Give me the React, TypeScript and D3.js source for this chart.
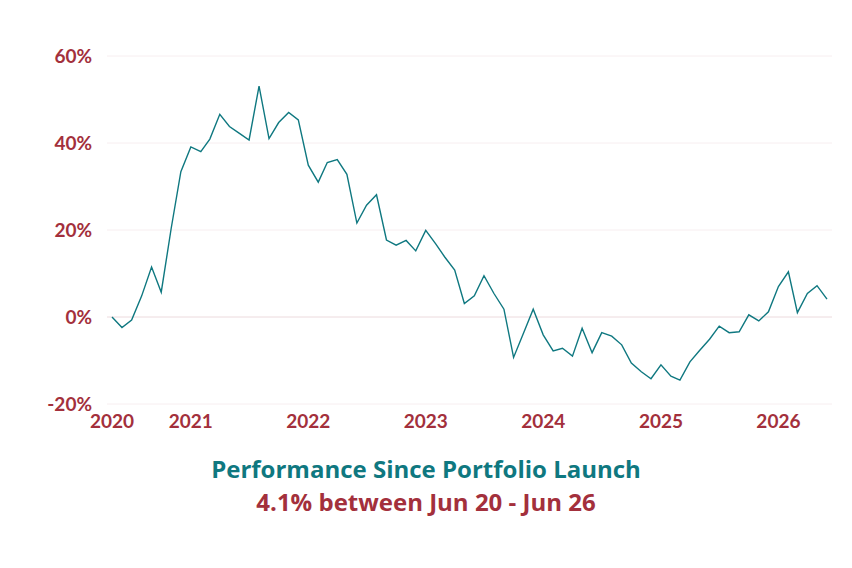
import React from "react";
import * as d3 from "d3";

const startYear = 2020;
const startMonth = 4; // May (0-based)
const performance: number[] = [
  0, -2.4, -0.7, 4.8, 11.5, 5.7, 20.4, 33.4, 39.1, 38.0,
  40.9, 46.6, 43.8, 42.2, 40.7, 53.1, 41.0, 44.7, 47.0, 45.3,
  34.9, 31.0, 35.5, 36.2, 32.8, 21.6, 25.7, 28.1, 17.7, 16.5,
  17.6, 15.2, 19.9, 16.8, 13.8, 10.8, 3.1, 4.9, 9.5, 5.4,
  1.8, -9.3, -3.7, 1.8, -4.1, -7.8, -7.2, -9.0, -2.6, -8.2,
  -3.6, -4.4, -6.4, -10.6, -12.6, -14.2, -11.0, -13.6, -14.5, -10.3,
  -7.7, -5.1, -2.1, -3.6, -3.4, 0.5, -0.9, 1.2, 7.0, 10.4,
  1.0, 5.4, 7.2, 4.1,
];
const yTicks: number[] = [-20, 0, 20, 40, 60];
const xTickYears: number[] = [2021, 2022, 2023, 2024, 2025, 2026];
const titleText = "Performance Since Portfolio Launch";
const subtitleText = "4.1% between Jun 20 - Jun 26";

const TEAL = "#0f7880";
const RED = "#a3303c";

export default function App() {
  const W = 852;
  const H = 568;
  const dates = performance.map((_, i) => new Date(startYear, startMonth + i, 1));
  const data = performance.map((v, i) => ({ date: dates[i], value: v }));

  const x = d3
    .scaleTime()
    .domain([dates[0], dates[dates.length - 1]])
    .range([112, 827]);
  const y = d3.scaleLinear().domain([-20, 60]).range([404, 56]);

  const line = d3
    .line<{ date: Date; value: number }>()
    .x((d) => x(d.date))
    .y((d) => y(d.value));

  const xTicks = [dates[0], ...xTickYears.map((yr) => new Date(yr, 0, 1))];
  const fmt = d3.timeFormat("%Y");
  const axisFont = "Lato, 'Open Sans', sans-serif";

  return (
    <svg
      width={W}
      height={H}
      style={{ position: "absolute", left: 0, top: 0, background: "#fff" }}
    >
      {yTicks.map((t) => (
        <g key={t}>
          <line
            x1={107}
            x2={832}
            y1={y(t)}
            y2={y(t)}
            stroke={t === 0 ? "#ecdadd" : "#f7eef0"}
            strokeWidth={1}
          />
          <text
            x={92}
            y={y(t)}
            dy="0.36em"
            textAnchor="end"
            fill={RED}
            fontFamily={axisFont}
            fontWeight={700}
            fontSize={19}
          >
            {t}%
          </text>
        </g>
      ))}
      {xTicks.map((d, i) => (
        <text
          key={i}
          x={x(d)}
          y={428}
          textAnchor="middle"
          fill={RED}
          fontFamily={axisFont}
          fontWeight={700}
          fontSize={19}
        >
          {fmt(d)}
        </text>
      ))}
      <path d={line(data) || ""} fill="none" stroke={TEAL} strokeWidth={1.4} strokeLinejoin="miter" />
      <text
        x={426}
        y={478}
        textAnchor="middle"
        fill={TEAL}
        fontFamily="'Open Sans', sans-serif"
        fontWeight={700}
        fontSize={24}
      >
        {titleText}
      </text>
      <text
        x={426}
        y={511}
        textAnchor="middle"
        fill={RED}
        fontFamily="'Open Sans', sans-serif"
        fontWeight={700}
        fontSize={24}
      >
        {subtitleText}
      </text>
    </svg>
  );
}
